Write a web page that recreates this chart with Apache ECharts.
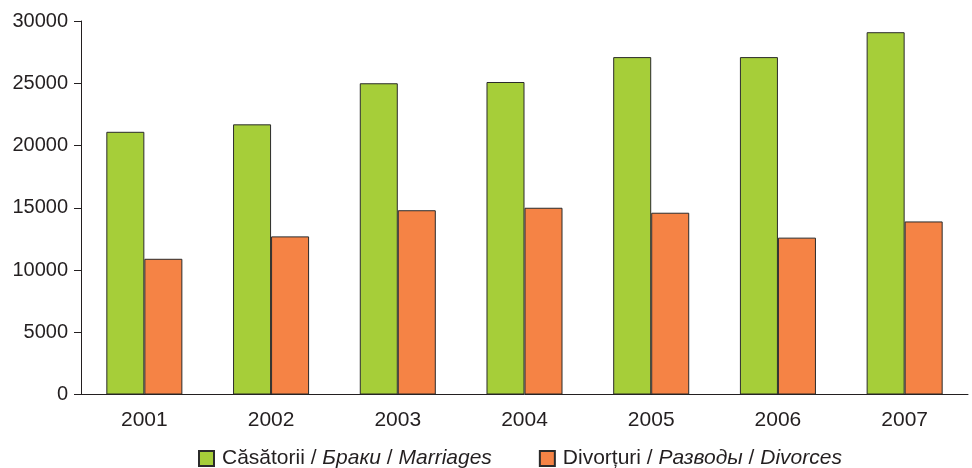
<!DOCTYPE html>
<html><head><meta charset="utf-8">
<script src="https://cdn.jsdelivr.net/npm/echarts@6/dist/echarts.min.js"></script>
<style>html,body{margin:0;padding:0;background:#fff}#c{width:972px;height:468px}</style>
</head><body><div id="c"></div>
<script>
const years = ['2001','2002','2003','2004','2005','2006','2007'];
const marriages = [21100, 21700, 25000, 25100, 27100, 27100, 29100];
const divorces = [10900, 12700, 14800, 15000, 14600, 12600, 13900];
const seriesNames = ['Marriages', 'Divorces'];
const legendLabels = {
  Marriages: ['Căsătorii', 'Браки', 'Marriages'],
  Divorces: ['Divorțuri', 'Разводы', 'Divorces']
};
const txt = '#231f20';
const font = '"Liberation Sans", Arial, sans-serif';
const chart = echarts.init(document.getElementById('c'));
chart.setOption({
  animation: false,
  grid: { left: 81, right: 4, top: 21, bottom: 73.5 },
  legend: {
    left: 193, top: 443, itemWidth: 15, itemHeight: 15, itemGap: 47,
    icon: 'rect',
    data: seriesNames,
    formatter: n => { const p = legendLabels[n]; return '{n|' + p[0] + ' / }{i|' + p[1] + '}{n| / }{i|' + p[2] + '}'; },
    textStyle: {
      fontFamily: font, fontSize: 21, color: txt, padding: [0,0,0,3],
      rich: {
        n: { fontFamily: font, fontSize: 21, color: txt },
        i: { fontFamily: font, fontSize: 21, color: txt, fontStyle: 'italic' }
      }
    }
  },
  xAxis: {
    type: 'category', data: years,
    axisLine: { lineStyle: { color: '#231f20', width: 1 } },
    axisTick: { length: 6, lineStyle: { color: '#231f20' } },
    axisLabel: { fontFamily: font, fontSize: 21, color: txt, margin: 15 }
  },
  yAxis: {
    type: 'value', min: 0, max: 30000, interval: 5000,
    axisLine: { show: true, lineStyle: { color: '#231f20', width: 1 } },
    axisTick: { show: true, length: 7, lineStyle: { color: '#231f20' } },
    splitLine: { show: false },
    axisLabel: { fontFamily: font, fontSize: 20, color: txt, margin: 13, formatter: v => String(v) }
  },
  series: [
    { name: seriesNames[0], type: 'bar', data: marriages, barGap: '0%', barCategoryGap: '40%',
      itemStyle: { color: '#a6ce39', borderColor: '#2b2b2b', borderWidth: 1 } },
    { name: seriesNames[1], type: 'bar', data: divorces,
      itemStyle: { color: '#f58345', borderColor: '#2b2b2b', borderWidth: 1 } }
  ]
});
</script></body></html>
